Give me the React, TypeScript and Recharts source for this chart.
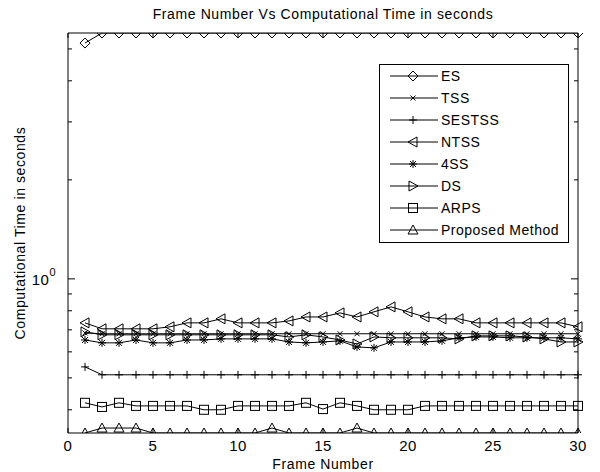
import React from "react";
import { LineChart, Line, XAxis, YAxis, ReferenceArea } from "recharts";

// frame index 1..30
const frames = [1, 2, 3, 4, 5, 6, 7, 8, 9, 10, 11, 12, 13, 14, 15, 16, 17, 18, 19, 20, 21, 22, 23, 24, 25, 26, 27, 28, 29, 30];

const esTime = [5.21, 5.59, 5.59, 5.59, 5.59, 5.59, 5.59, 5.59, 5.59, 5.59, 5.59, 5.59, 5.59, 5.59, 5.59, 5.59, 5.59, 5.59, 5.59, 5.59, 5.59, 5.59, 5.59, 5.59, 5.59, 5.59, 5.59, 5.59, 5.59, 5.59];
const tssTime = [0.685, 0.681, 0.681, 0.681, 0.681, 0.681, 0.681, 0.681, 0.681, 0.681, 0.681, 0.681, 0.681, 0.681, 0.681, 0.681, 0.681, 0.681, 0.681, 0.681, 0.681, 0.681, 0.681, 0.681, 0.681, 0.681, 0.681, 0.681, 0.681, 0.681];
const sestssTime = [0.54, 0.511, 0.511, 0.511, 0.511, 0.511, 0.511, 0.511, 0.511, 0.511, 0.511, 0.511, 0.511, 0.511, 0.511, 0.511, 0.511, 0.511, 0.511, 0.511, 0.511, 0.511, 0.511, 0.511, 0.511, 0.511, 0.511, 0.511, 0.511, 0.511];
const ntssTime = [0.735, 0.705, 0.705, 0.705, 0.705, 0.715, 0.735, 0.735, 0.756, 0.735, 0.735, 0.735, 0.745, 0.766, 0.766, 0.788, 0.766, 0.794, 0.822, 0.794, 0.766, 0.756, 0.756, 0.735, 0.735, 0.735, 0.735, 0.735, 0.735, 0.715];
const fourSsTime = [0.652, 0.639, 0.639, 0.652, 0.639, 0.639, 0.652, 0.652, 0.657, 0.657, 0.657, 0.657, 0.643, 0.639, 0.643, 0.648, 0.621, 0.617, 0.643, 0.643, 0.643, 0.648, 0.662, 0.666, 0.666, 0.662, 0.662, 0.662, 0.662, 0.657];
const dsTime = [0.69, 0.676, 0.676, 0.676, 0.676, 0.676, 0.676, 0.676, 0.676, 0.676, 0.676, 0.676, 0.666, 0.676, 0.666, 0.652, 0.634, 0.666, 0.662, 0.662, 0.662, 0.662, 0.657, 0.671, 0.671, 0.671, 0.666, 0.657, 0.643, 0.643];
const arpsTime = [0.42, 0.408, 0.42, 0.411, 0.411, 0.411, 0.411, 0.4, 0.4, 0.411, 0.411, 0.411, 0.411, 0.42, 0.402, 0.42, 0.411, 0.4, 0.4, 0.4, 0.411, 0.411, 0.411, 0.411, 0.411, 0.411, 0.411, 0.411, 0.411, 0.411];
const proposedTime = [0.34, 0.352, 0.352, 0.352, 0.34, 0.34, 0.34, 0.34, 0.34, 0.34, 0.34, 0.352, 0.34, 0.34, 0.34, 0.34, 0.352, 0.34, 0.34, 0.34, 0.34, 0.34, 0.34, 0.34, 0.34, 0.34, 0.34, 0.34, 0.34, 0.34];

const xTicks = [0, 5, 10, 15, 20, 25, 30];
const yTicks = [0.4, 0.5, 0.6, 0.7, 0.8, 0.9, 1, 2, 3, 4, 5];
const yDomain = [0.34, 5.59];

const W = 600;
const H = 472;
const PLOT_LEFT = 68;
const PLOT_RIGHT = 578;
const PLOT_TOP = 33;
const PLOT_BOTTOM = 433;
const FONT = "'Liberation Sans', Arial, sans-serif";

type MarkerKind = "diamond" | "x" | "plus" | "left" | "star" | "right" | "square" | "up";

const series: { key: string; name: string; values: number[]; marker: MarkerKind }[] = [
  { key: "es", name: "ES", values: esTime, marker: "diamond" },
  { key: "tss", name: "TSS", values: tssTime, marker: "x" },
  { key: "sestss", name: "SESTSS", values: sestssTime, marker: "plus" },
  { key: "ntss", name: "NTSS", values: ntssTime, marker: "left" },
  { key: "fourss", name: "4SS", values: fourSsTime, marker: "star" },
  { key: "ds", name: "DS", values: dsTime, marker: "right" },
  { key: "arps", name: "ARPS", values: arpsTime, marker: "square" },
  { key: "proposed", name: "Proposed Method", values: proposedTime, marker: "up" },
];

const data = frames.map((f, i) => {
  const row: Record<string, number> = { frame: f };
  series.forEach((s) => (row[s.key] = s.values[i]));
  return row;
});

function Marker({ kind, cx, cy }: { kind: MarkerKind; cx: number; cy: number }) {
  const p = { fill: "none", stroke: "#000", strokeWidth: 1 };
  switch (kind) {
    case "diamond":
      return <polygon {...p} points={`${cx},${cy - 5} ${cx + 5},${cy} ${cx},${cy + 5} ${cx - 5},${cy}`} />;
    case "x":
      return (
        <g {...p}>
          <line x1={cx - 2.5} y1={cy - 2.5} x2={cx + 2.5} y2={cy + 2.5} />
          <line x1={cx - 2.5} y1={cy + 2.5} x2={cx + 2.5} y2={cy - 2.5} />
        </g>
      );
    case "plus":
      return (
        <g {...p}>
          <line x1={cx - 4} y1={cy} x2={cx + 4} y2={cy} />
          <line x1={cx} y1={cy - 4} x2={cx} y2={cy + 4} />
        </g>
      );
    case "star":
      return (
        <g {...p}>
          <line x1={cx - 4} y1={cy} x2={cx + 4} y2={cy} />
          <line x1={cx} y1={cy - 4} x2={cx} y2={cy + 4} />
          <line x1={cx - 3} y1={cy - 3} x2={cx + 3} y2={cy + 3} />
          <line x1={cx - 3} y1={cy + 3} x2={cx + 3} y2={cy - 3} />
        </g>
      );
    case "left":
      return <polygon {...p} points={`${cx - 5},${cy} ${cx + 4},${cy - 5} ${cx + 4},${cy + 5}`} />;
    case "right":
      return <polygon {...p} points={`${cx + 5},${cy} ${cx - 4},${cy - 5} ${cx - 4},${cy + 5}`} />;
    case "square":
      return <rect {...p} x={cx - 4.5} y={cy - 4.5} width={9} height={9} />;
    case "up":
      return <polygon {...p} points={`${cx},${cy - 5} ${cx + 5},${cy + 4} ${cx - 5},${cy + 4}`} />;
  }
}

function XTick(props: any) {
  const { x, y, payload } = props;
  return (
    <g>
      <line x1={x} y1={PLOT_BOTTOM} x2={x} y2={PLOT_BOTTOM - 5} stroke="#000" />
      <line x1={x} y1={PLOT_TOP} x2={x} y2={PLOT_TOP + 5} stroke="#000" />
      <text x={x} y={y + 18} textAnchor="middle" fontSize={15} letterSpacing={0.5} fontFamily={FONT} fill="#000">
        {payload.value}
      </text>
    </g>
  );
}

function YTick(props: any) {
  const { y, payload } = props;
  const major = payload.value === 1;
  const len = major ? 7 : 4;
  return (
    <g>
      <line x1={PLOT_LEFT} y1={y} x2={PLOT_LEFT + len} y2={y} stroke="#000" />
      <line x1={PLOT_RIGHT} y1={y} x2={PLOT_RIGHT - len} y2={y} stroke="#000" />
      {major && (
        <text x={PLOT_LEFT - 12} y={y + 6} textAnchor="end" fontSize={15} letterSpacing={0.5} fontFamily={FONT} fill="#000">
          10
          <tspan fontSize={11} dy={-9}>0</tspan>
        </text>
      )}
    </g>
  );
}

function LegendBox() {
  const rowH = 22;
  return (
    <div
      style={{
        position: "absolute",
        left: 379,
        top: 64,
        width: 190,
        height: 179,
        boxSizing: "border-box",
        border: "1px solid #000",
        background: "#fff",
      }}
    >
      <svg width={188} height={177}>
        {series.map((s, i) => {
          const cy = 11 + i * rowH;
          return (
            <g key={s.key}>
              <line x1={10} y1={cy} x2={58} y2={cy} stroke="#000" strokeWidth={1} />
              <Marker kind={s.marker} cx={33} cy={cy} />
              <text x={61} y={cy + 5} fontSize={14} letterSpacing={0.5} fontFamily={FONT} fill="#000">
                {s.name}
              </text>
            </g>
          );
        })}
      </svg>
    </div>
  );
}

const textStyle = { position: "absolute" as const, textAlign: "center" as const, fontSize: 14, letterSpacing: 0.6, lineHeight: "16px" };

export default function App() {
  return (
    <div style={{ position: "absolute", left: 0, top: 0, width: W, height: H, background: "#fff", fontFamily: FONT }}>
      <LineChart width={W} height={H} data={data} margin={{ top: PLOT_TOP, right: W - PLOT_RIGHT, bottom: 0, left: 0 }}>
        <XAxis
          dataKey="frame"
          type="number"
          domain={[0, 30]}
          ticks={xTicks}
          height={H - PLOT_BOTTOM}
          tickSize={0}
          tickMargin={0}
          axisLine={false}
          tickLine={false}
          tick={<XTick />}
          interval={0}
        />
        <YAxis
          scale="log"
          domain={yDomain}
          allowDataOverflow
          ticks={yTicks}
          width={PLOT_LEFT}
          tickSize={0}
          tickMargin={0}
          axisLine={false}
          tickLine={false}
          tick={<YTick />}
          interval={0}
        />
        <ReferenceArea x1={0} x2={30} y1={yDomain[0]} y2={yDomain[1]} fill="none" stroke="#000" strokeWidth={1} ifOverflow="visible" />
        {series.map((s) => (
          <Line
            key={s.key}
            dataKey={s.key}
            name={s.name}
            type="linear"
            stroke="#000"
            strokeWidth={1}
            isAnimationActive={false}
            dot={(d: any) => <Marker key={`${s.key}-${d.index}`} kind={s.marker} cx={d.cx} cy={d.cy} />}
            activeDot={false}
          />
        ))}
      </LineChart>
      <div style={{ ...textStyle, left: PLOT_LEFT, width: PLOT_RIGHT - PLOT_LEFT, top: 6 }}>
        Frame Number Vs Computational Time in seconds
      </div>
      <div style={{ ...textStyle, left: PLOT_LEFT, width: PLOT_RIGHT - PLOT_LEFT, top: 457, lineHeight: "14px" }}>
        Frame Number
      </div>
      <div
        style={{
          ...textStyle,
          left: 20 - 150,
          top: (PLOT_TOP + PLOT_BOTTOM) / 2 - 8,
          width: 300,
          transform: "rotate(-90deg)",
        }}
      >
        Computational Time in seconds
      </div>
      <LegendBox />
    </div>
  );
}
